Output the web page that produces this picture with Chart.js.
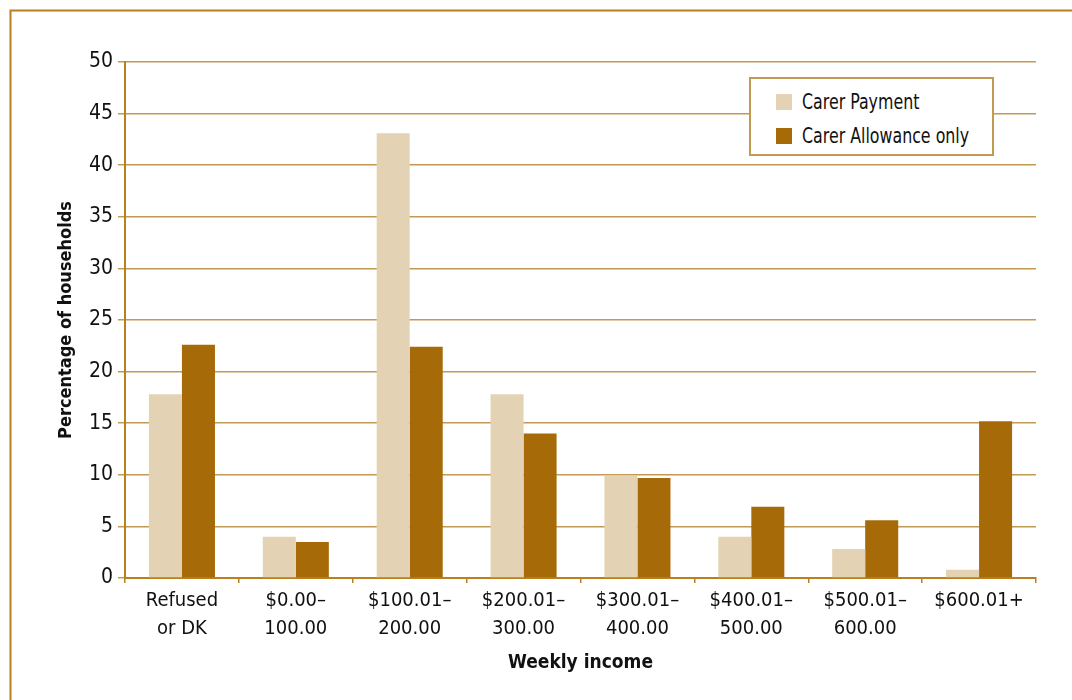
<!DOCTYPE html>
<html>
<head>
<meta charset="utf-8">
<script src="https://cdn.jsdelivr.net/npm/chart.js@4/dist/chart.umd.min.js"></script>
<style>
  html, body { margin: 0; padding: 0; background: #fff; }
  #wrap { position: relative; width: 1072px; height: 700px; overflow: hidden; }
  #legend {
    position: absolute; left: 749px; top: 77px; width: 241px; height: 75px;
    border: 2px solid #c29a52; background: #fff;
    font-family: "Liberation Sans Narrow", "DejaVu Sans Condensed", sans-serif;
    font-size: 22px; color: #111;
  }
  #legend .item { position: absolute; left: 25px; height: 24px; line-height: 24px; white-space: nowrap; }
  #legend .sw { display: inline-block; width: 16px; height: 16px; vertical-align: -1px; margin-right: 10px; }
  #legend .txt { display: inline-block; transform: scaleX(0.8); transform-origin: left center; }
</style>
</head>
<body>
<div id="wrap">
  <canvas id="bar" width="1072" height="700"></canvas>
  <div id="legend"></div>
</div>
<script>
// DATA
const categories = [
    ['Refused', 'or DK'], ['$0.00–', '100.00'], ['$100.01–', '200.00'], ['$200.01–', '300.00'],
    ['$300.01–', '400.00'], ['$400.01–', '500.00'], ['$500.01–', '600.00'], ['$600.01+']
];
const carerPayment = [17.8, 4.0, 43.1, 17.8, 9.9, 4.0, 2.8, 0.8];
const carerAllowance = [22.6, 3.5, 22.4, 14.0, 9.7, 6.9, 5.6, 15.2];
const seriesNames = ['Carer Payment', 'Carer Allowance only'];
const seriesColors = ['#e3d3b4', '#a66b08'];

const font = '"Liberation Sans Narrow", "DejaVu Sans Condensed", sans-serif';
const axisColor = '#b8801e';
const gridColor = '#c29a55';

// outer frame (open on right/bottom)
const framePlugin = {
    id: 'frame',
    beforeDraw(chart) {
        const c = chart.ctx;
        c.save();
        c.strokeStyle = axisColor;
        c.lineWidth = 2;
        c.beginPath();
        c.moveTo(10.5, 700);
        c.lineTo(10.5, 10.5);
        c.lineTo(1072, 10.5);
        c.stroke();
        c.restore();
    }
};

const ctx = document.getElementById('bar').getContext('2d');

new Chart(ctx, {
    type: 'bar',
    data: {
        labels: categories,
        datasets: [{
            label: seriesNames[0],
            data: carerPayment,
            backgroundColor: seriesColors[0]
        }, {
            label: seriesNames[1],
            data: carerAllowance,
            backgroundColor: seriesColors[1]
        }]
    },
    options: {
        responsive: false,
        animation: false,
        layout: {
            padding: { left: 0, right: 36, top: 62, bottom: 0 }
        },
        datasets: {
            bar: { categoryPercentage: 0.58, barPercentage: 1.0 }
        },
        plugins: {
            legend: { display: false },
            tooltip: { enabled: false }
        },
        scales: {
            x: {
                afterFit(scale) { scale.height = 122; },
                grid: {
                    drawOnChartArea: false,
                    drawTicks: true,
                    tickLength: 5,
                    color: axisColor,
                    lineWidth: 1.5
                },
                border: { color: axisColor, width: 2 },
                ticks: {
                    color: '#111',
                    padding: 4,
                    maxRotation: 0,
                    autoSkip: false,
                    font: { family: font, size: 20, lineHeight: 1.38 }
                },
                title: {
                    display: true,
                    text: 'Weekly income',
                    color: '#111',
                    padding: { top: 8, bottom: 26 },
                    font: { family: font, size: 19, weight: 'bold' }
                }
            },
            y: {
                min: 0,
                max: 50,
                afterFit(scale) { scale.width = 125; },
                grid: {
                    color: gridColor,
                    lineWidth: 1.5,
                    tickLength: 7
                },
                border: { color: axisColor, width: 2 },
                ticks: {
                    stepSize: 5,
                    color: '#111',
                    padding: 5,
                    font: { family: font, size: 21 }
                },
                title: {
                    display: true,
                    text: 'Percentage of households',
                    color: '#111',
                    padding: { top: 56, bottom: 4 },
                    font: { family: font, size: 18, weight: 'bold' }
                }
            }
        }
    },
    plugins: [framePlugin]
});

// HTML legend
const legend = document.getElementById('legend');
seriesNames.forEach((name, i) => {
    const item = document.createElement('div');
    item.className = 'item';
    item.style.top = (11 + i * 34) + 'px';
    item.innerHTML = '<span class="sw" style="background:' + seriesColors[i] + '"></span><span class="txt">' + name + '</span>';
    legend.appendChild(item);
});
</script>
</body>
</html>
